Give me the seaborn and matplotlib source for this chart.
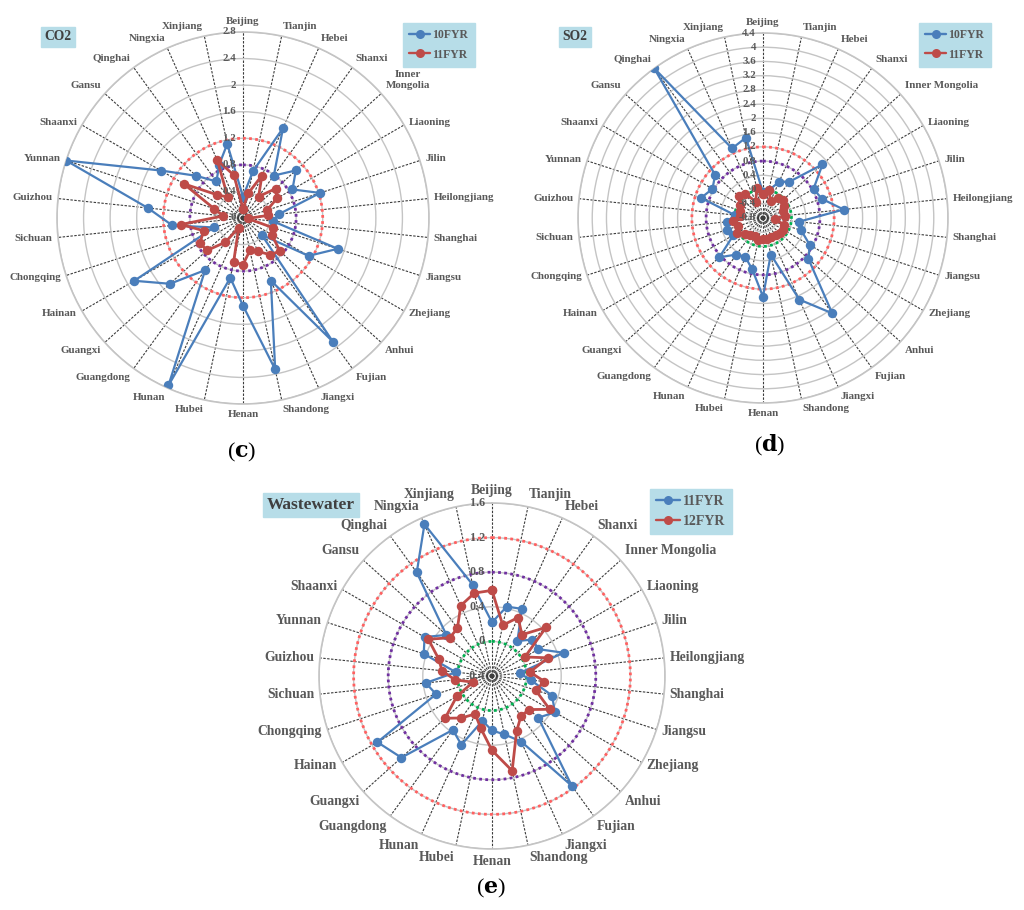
import numpy as np
import matplotlib
matplotlib.use('Agg')
import matplotlib.pyplot as plt
import matplotlib.transforms as mtransforms
from matplotlib.lines import Line2D
import seaborn as sns

sns.set_style('white')
plt.rcParams['font.family'] = ['Liberation Serif', 'DejaVu Serif']
plt.rcParams['font.weight'] = 'bold'
plt.rcParams['mathtext.fontset'] = 'dejavuserif'

# ---------------- data ----------------
provinces = ['Beijing', 'Tianjin', 'Hebei', 'Shanxi', 'Inner Mongolia', 'Liaoning', 'Jilin',
             'Heilongjiang', 'Shanghai', 'Jiangsu', 'Zhejiang', 'Anhui', 'Fujian', 'Jiangxi',
             'Shandong', 'Henan', 'Hubei', 'Hunan', 'Guangdong', 'Guangxi', 'Hainan',
             'Chongqing', 'Sichuan', 'Guizhou', 'Yunnan', 'Shaanxi', 'Gansu', 'Qinghai',
             'Ningxia', 'Xinjiang']

co2_10fyr = [0.32, 0.72, 1.48, 0.79, 1.07, 0.86, 1.22, 0.54, 0.45, 1.50, 1.14, 0.38, 2.30, 1.03,
             2.33, 1.32, 0.92, 2.76, 0.97, 1.48, 1.89, 0.46, 1.07, 1.44, 2.80, 1.43, 0.95, 0.68,
             0.88, 1.14]
co2_11fyr = [0.14, 0.38, 0.70, 0.40, 0.66, 0.59, 0.38, 0.38, 0.07, 0.48, 0.50, 0.75, 0.68, 0.55,
             0.50, 0.70, 0.68, 0.16, 0.45, 0.73, 0.75, 0.62, 0.94, 0.30, 0.46, 1.03, 0.52, 0.39,
             0.95, 0.66]

so2_10fyr = [-0.08, 0.00, 0.31, 0.46, 1.45, 0.84, 0.94, 1.48, 0.21, 0.33, 0.72, 0.92, 2.51, 1.71,
             0.25, 1.41, 0.67, 0.41, 0.47, 0.85, 0.16, 0.27, 0.22, 0.00, 1.03, 0.84, 1.01, 4.40,
             1.34, 1.51]
so2_11fyr = [-0.12, 0.00, -0.28, -0.10, -0.05, -0.12, -0.20, -0.18, -0.45, -0.18, -0.15, -0.15,
             -0.20, -0.22, -0.20, -0.22, -0.18, -0.25, -0.20, -0.12, 0.05, -0.05, 0.05, -0.15,
             -0.12, -0.05, 0.12, 0.05, -0.30, 0.05]

ww_11fyr = [0.22, 0.42, 0.45, 0.10, 0.23, 0.22, 0.47, -0.08, 0.05, 0.33, 0.44, 0.32, 1.17, 0.43,
            0.29, 0.23, 0.13, 0.47, 0.37, 1.01, 1.13, 0.28, 0.37, 0.02, 0.43, 0.50, 0.31, 1.08,
            1.52, 0.68]
ww_12fyr = [0.59, 0.20, 0.34, 0.19, 0.44, 0.04, 0.28, 0.04, 0.21, 0.13, 0.37, 0.18, 0.17, 0.30,
            0.72, 0.46, 0.22, 0.08, 0.20, 0.33, 0.07, -0.17, 0.03, 0.18, 0.25, 0.45, 0.26, 0.28,
            0.49, 0.58]

# reference (dotted) circles
ref_values = [0.0, 0.8, 1.2]
ref_colors = ['#00b050', '#7030a0', '#ff6060']

BLUE = '#4a7ebb'
RED = '#be4b48'
TXT = '#595959'
BOX = '#b7dde8'

W, H = 1024, 910
fig = plt.figure(figsize=(W / 100, H / 100), dpi=100)
fig.patch.set_facecolor('white')


def rect_from(cx, cy, r):
    return [(cx - r) / W, (H - cy - r) / H, 2 * r / W, 2 * r / H]


def radar(rect, rmin, rmax, step, s1, s2, c_labels, fs_cat, fs_tick, show_refs):
    ax = fig.add_axes(rect, projection='polar')
    n = len(provinces)
    theta = np.arange(n) * 2 * np.pi / n
    ax.set_theta_zero_location('N')
    ax.set_theta_direction(-1)
    ticks = np.round(np.arange(rmin, rmax + 1e-9, step), 2)
    ax.set_xticks(theta)
    ax.set_xticklabels([])
    ax.set_yticks(ticks)
    ax.set_yticklabels([])
    ax.yaxis.grid(True, color='#c4c4c4', lw=1.0, ls='-')
    ax.xaxis.grid(True, color='#3c3c3c', lw=0.8, ls=(0, (2.2, 1.3)))
    ax.spines['polar'].set_color('#c4c4c4')
    ax.spines['polar'].set_linewidth(1.2)
    ax.set_facecolor('white')

    tt = np.linspace(0, 2 * np.pi, 400)
    for val, col in zip(ref_values, ref_colors):
        if val in show_refs:
            ax.plot(tt, np.full_like(tt, val), color=col, ls=(0, (1, 1.2)), lw=2.0, zorder=2)

    th = np.append(theta, 2 * np.pi)
    for vals, col, lw in ((s1, BLUE, 1.6), (s2, RED, 2.0)):
        v = np.append(np.asarray(vals, float), vals[0])
        sns.lineplot(x=th, y=v, ax=ax, sort=False, estimator=None, color=col, lw=lw,
                     marker='o', markersize=6.8, markeredgewidth=0, zorder=3)
    ax.set_xlabel('')
    ax.set_ylabel('')
    ax.set_ylim(rmin, rmax)

    # radial tick labels
    off = mtransforms.ScaledTranslation(-5 / 72, 0, fig.dpi_scale_trans)
    for t in ticks:
        lab = f'{t:g}'
        ax.text(0, t, lab, transform=ax.transData + off, ha='right', va='center',
                fontsize=fs_tick, color=TXT, fontweight='bold', zorder=5)

    # category labels
    for thi, name in zip(theta, c_labels):
        s, c = np.sin(thi), np.cos(thi)
        ha = 'center' if abs(s) < 0.05 else ('left' if s > 0 else 'right')
        va = 'center' if abs(c) < 0.55 else ('bottom' if c > 0 else 'top')
        o = mtransforms.ScaledTranslation(4 * s / 72, 4 * c / 72, fig.dpi_scale_trans)
        ax.text(thi, rmax, name, transform=ax.transData + o, ha=ha, va=va,
                multialignment='center', fontsize=fs_cat, color=TXT, fontweight='bold',
                clip_on=False)
    return ax


labels_c = list(provinces)
labels_c[4] = 'Inner\nMongolia'

radar(rect_from(243, 218, 186), 0.0, 2.8, 0.4, co2_10fyr, co2_11fyr, labels_c, 7.9, 7.8,
      [0.8, 1.2])
radar(rect_from(763, 218, 185), -0.8, 4.4, 0.4, so2_10fyr, so2_11fyr, provinces, 7.9, 7.8,
      [0.0, 0.8, 1.2])
radar(rect_from(492, 676, 173), -0.4, 1.6, 0.4, ww_11fyr, ww_12fyr, provinces, 9.8, 8.7,
      [0.0, 0.8, 1.2])

# title boxes
for x, y, s, fs in ((58, 37, 'CO2', 9.8), (575, 37, 'SO2', 9.8), (311, 505, 'Wastewater', 12.5)):
    fig.text(x / W, 1 - y / H, s, ha='center', va='center', fontsize=fs, color='#404040',
             fontweight='bold',
             bbox=dict(boxstyle='square,pad=0.25', facecolor=BOX, edgecolor=BOX))


# legends
def add_legend(x0, y0, names, fs, bpad, lspace):
    handles = [Line2D([], [], color=BLUE, marker='o', lw=1.7, markersize=6.5, markeredgewidth=0),
               Line2D([], [], color=RED, marker='o', lw=1.7, markersize=6.5, markeredgewidth=0)]
    leg = fig.legend(handles, names, loc='upper left', bbox_to_anchor=(x0 / W, 1 - y0 / H),
                     frameon=True, fancybox=False, facecolor=BOX, edgecolor=BOX, framealpha=1,
                     prop={'family': ['Liberation Serif'], 'weight': 'bold', 'size': fs},
                     handlelength=1.7, handletextpad=0.25, borderpad=bpad, labelspacing=lspace,
                     borderaxespad=0)
    for t in leg.get_texts():
        t.set_color(TXT)
    return leg


add_legend(403, 23, ['10FYR', '11FYR'], 8.5, 0.55, 0.6)
add_legend(919, 23, ['10FYR', '11FYR'], 8.5, 0.55, 0.6)
add_legend(650, 489, ['11FYR', '12FYR'], 10, 0.45, 0.5)

# panel labels
for x, y, s in ((242, 452, 'c'), (770, 445, 'd'), (491, 888, 'e')):
    fig.text(x / W, 1 - y / H, '(' + r'$\mathbf{' + s + '}$' + ')', ha='center', va='center',
             fontsize=16, color='black', fontweight='normal')

fig.savefig('out.png', dpi=100, facecolor='white')
